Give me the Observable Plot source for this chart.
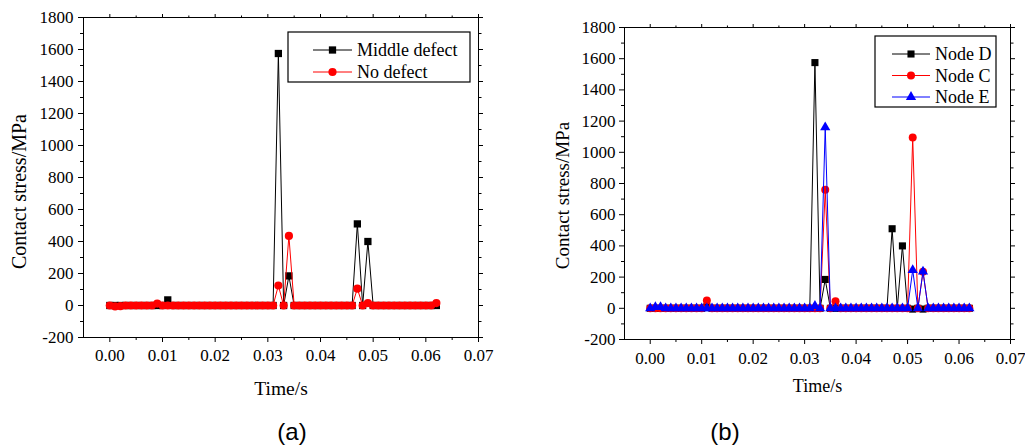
<!DOCTYPE html>
<html><head><meta charset="utf-8">
<script src="https://cdn.jsdelivr.net/npm/d3@7"></script>
<script src="https://cdn.jsdelivr.net/npm/@observablehq/plot@0.6"></script>
<style>
body{margin:0;background:#fff;}
#wrap{position:relative;width:1025px;height:446px;overflow:hidden;background:#fff;}
.panel{position:absolute;top:0;}
.panel text{font-family:'Liberation Serif','Times New Roman',serif;}
.cap{position:absolute;font-family:"Liberation Sans",Arial,sans-serif;font-size:24px;transform:translate(-50%,-50%);color:#000;}
</style></head><body><div id="wrap"></div>
<script>
// ---- data ----
const time = [0.000,0.001,0.002,0.003,0.004,0.005,0.006,0.007,0.008,0.009,
  0.010,0.011,0.012,0.013,0.014,0.015,0.016,0.017,0.018,0.019,
  0.020,0.021,0.022,0.023,0.024,0.025,0.026,0.027,0.028,0.029,
  0.030,0.031,0.032,0.033,0.034,0.035,0.036,0.037,0.038,0.039,
  0.040,0.041,0.042,0.043,0.044,0.045,0.046,0.047,0.048,0.049,
  0.050,0.051,0.052,0.053,0.054,0.055,0.056,0.057,0.058,0.059,
  0.060,0.061,0.062];
// panel (a)
const middleDefect = [0,0,0,0,0,0,0,0,0,0,
  0,35,0,0,0,0,0,0,0,0,
  0,0,0,0,0,0,0,0,0,0,
  0,0,1575,0,185,0,0,0,0,0,
  0,0,0,0,0,0,0,510,0,400,
  0,0,0,0,0,0,0,0,0,0,
  0,0,0];
const noDefect = [0,-6,-4,0,0,0,0,0,0,12,
  0,0,0,0,0,0,0,0,0,0,
  0,0,0,0,0,0,0,0,0,0,
  0,0,125,0,435,0,0,0,0,0,
  0,0,0,0,0,0,0,105,0,15,
  0,0,0,0,0,0,0,0,0,0,
  0,0,15];
// panel (b)
const nodeD = [0,0,0,0,0,0,0,0,0,0,
  0,10,0,0,0,0,0,0,0,0,
  0,0,0,0,0,0,0,0,0,0,
  0,0,1575,0,185,0,0,0,0,0,
  0,0,0,0,0,0,0,510,0,400,
  0,-5,0,-5,0,0,0,0,0,0,
  0,0,0];
const nodeC = [0,0,0,0,0,0,0,0,0,0,
  0,50,0,0,0,0,0,0,0,0,
  0,0,0,0,0,0,0,0,0,0,
  0,0,0,0,760,0,45,0,0,0,
  0,0,0,0,0,0,0,0,0,0,
  0,1095,0,235,0,0,0,0,0,0,
  0,0,0];
const nodeE = [0,8,8,0,0,0,0,0,0,0,
  0,0,0,0,0,0,0,0,0,0,
  0,0,0,0,0,0,0,0,0,0,
  0,0,15,0,1160,0,0,0,0,0,
  0,0,0,0,0,0,0,0,0,0,
  0,245,0,235,0,0,0,0,0,0,
  0,0,0];
const xTicks = [0.00,0.01,0.02,0.03,0.04,0.05,0.06,0.07];
const yTicks = [-200,0,200,400,600,800,1000,1200,1400,1600,1800];
const xMinor = [0.005,0.015,0.025,0.035,0.045,0.055,0.065];
const yMinor = [-100,100,300,500,700,900,1100,1300,1500,1700];

const seriesA = [
  {name:"Middle defect", values: middleDefect, color:"#000000", symbol:"square", r:4.1},
  {name:"No defect", values: noDefect, color:"#ff0000", symbol:"circle", r:4.1}
];
const seriesB = [
  {name:"Node D", values: nodeD, color:"#000000", symbol:"square", r:4.0},
  {name:"Node C", values: nodeC, color:"#ff0000", symbol:"circle", r:4.0},
  {name:"Node E", values: nodeE, color:"#0000ff", symbol:"triangle", r:3.8}
];

const FONT = "'Liberation Serif','Times New Roman',serif";
const wrap = document.getElementById("wrap");

function makePanel(cfg) {
  const marks = [];
  for (const s of cfg.series) {
    const rows = time.map((t, i) => ({t, v: s.values[i]}));
    marks.push(Plot.line(rows, {x:"t", y:"v", stroke:s.color, strokeWidth:1}));
    marks.push(Plot.dot(rows, {x:"t", y:"v", symbol:s.symbol, r:s.r, fill:s.color, stroke:"none"}));
  }
  marks.push(
    Plot.frame({stroke:"#000", strokeWidth:1}),
    Plot.axisX(xTicks, {anchor:"bottom", tickSize:5, tickPadding:cfg.xPad, tickFormat:d=>d.toFixed(2), fontSize:17, fontFamily:FONT, label:null}),
    Plot.axisX(xMinor, {anchor:"bottom", tickSize:3, tickFormat:()=>"", label:null}),
    Plot.axisX(xTicks, {anchor:"top", tickSize:4, tickFormat:()=>"", label:null}),
    Plot.axisX(xMinor, {anchor:"top", tickSize:2.5, tickFormat:()=>"", label:null}),
    Plot.axisY(yTicks, {anchor:"left", tickSize:5, tickPadding:cfg.yPad, tickFormat:d=>String(d), fontSize:17, fontFamily:FONT, label:null}),
    Plot.axisY(yMinor, {anchor:"left", tickSize:3, tickFormat:()=>"", label:null}),
    Plot.axisY(yTicks, {anchor:"right", tickSize:4, tickFormat:()=>"", label:null}),
    Plot.axisY(yMinor, {anchor:"right", tickSize:2.5, tickFormat:()=>"", label:null}),
    Plot.text([cfg.yLabel], {frameAnchor:"left", dx:cfg.yLabelDx, dy:cfg.yLabelDy, rotate:-90, textAnchor:"middle", lineAnchor:"middle", fontSize:cfg.yLabelSize, fontFamily:FONT, text:d=>d}),
    Plot.text([cfg.xLabel], {frameAnchor:"bottom", dy:cfg.xLabelDy, textAnchor:"middle", lineAnchor:"middle", fontSize:cfg.xLabelSize, fontFamily:FONT, text:d=>d})
  );
  const svg = Plot.plot({
    width: cfg.width, height: cfg.height,
    marginLeft: cfg.ml, marginRight: cfg.mr, marginTop: cfg.mt, marginBottom: cfg.mb,
    x: {domain:[-0.005, 0.07], label:null},
    y: {domain:[-200, 1800], label:null},
    style: {fontFamily: FONT, fontSize:"17px", color:"#000", background:"transparent"},
    marks
  });
  svg.classList.add("panel");
  svg.style.left = cfg.left + "px";
  wrap.appendChild(svg);
}

makePanel({series:seriesA, left:0, width:510, height:400, ml:83, mr:32, mt:17, mb:63,
  xPad:6, yPad:5, yLabel:"Contact stress/MPa", xLabel:"Time/s",
  yLabelDx:-64, yLabelDy:14, xLabelDy:51, yLabelSize:20, xLabelSize:19.5});
makePanel({series:seriesB, left:520, width:505, height:400, ml:104, mr:15, mt:27, mb:61,
  xPad:7, yPad:4, yLabel:"Contact stress/MPa", xLabel:"Time/s",
  yLabelDx:-62, yLabelDy:12, xLabelDy:47, yLabelSize:19, xLabelSize:18});

// legends
function legend(items, box) {
  const svg = d3.create("svg").attr("width", 1025).attr("height", 446)
    .style("position","absolute").style("left","0").style("top","0").style("pointer-events","none");
  svg.append("rect").attr("x", box.x).attr("y", box.y).attr("width", box.w).attr("height", box.h)
    .attr("fill","#fff").attr("stroke","#000").attr("stroke-width",1.2);
  items.forEach((s, i) => {
    const y = box.row0 + i * box.step;
    svg.append("line").attr("x1", box.lx1).attr("x2", box.lx2).attr("y1", y).attr("y2", y)
      .attr("stroke", s.color).attr("stroke-width", 1);
    const sym = s.symbol === "square" ? d3.symbolSquare : s.symbol === "triangle" ? d3.symbolTriangle : d3.symbolCircle;
    svg.append("path").attr("d", d3.symbol(sym, Math.PI * s.r * s.r)())
      .attr("transform", `translate(${(box.lx1 + box.lx2) / 2},${y})`).attr("fill", s.color);
    svg.append("text").attr("x", box.tx).attr("y", y).attr("dy", "0.35em")
      .attr("font-family", FONT).attr("font-size", 18).attr("fill","#000").text(s.name);
  });
  wrap.appendChild(svg.node());
}
legend(seriesA, {x:288, y:32, w:182, h:50, row0:50, step:22, lx1:313, lx2:352, tx:357});
legend(seriesB, {x:875, y:36, w:121, h:71, row0:54, step:21.5, lx1:892, lx2:930, tx:935});

// captions
[["(a)", 292], ["(b)", 725]].forEach(([t, x]) => {
  const d = document.createElement("div");
  d.className = "cap"; d.textContent = t;
  d.style.left = x + "px"; d.style.top = "432px";
  wrap.appendChild(d);
});
</script>
</body></html>
